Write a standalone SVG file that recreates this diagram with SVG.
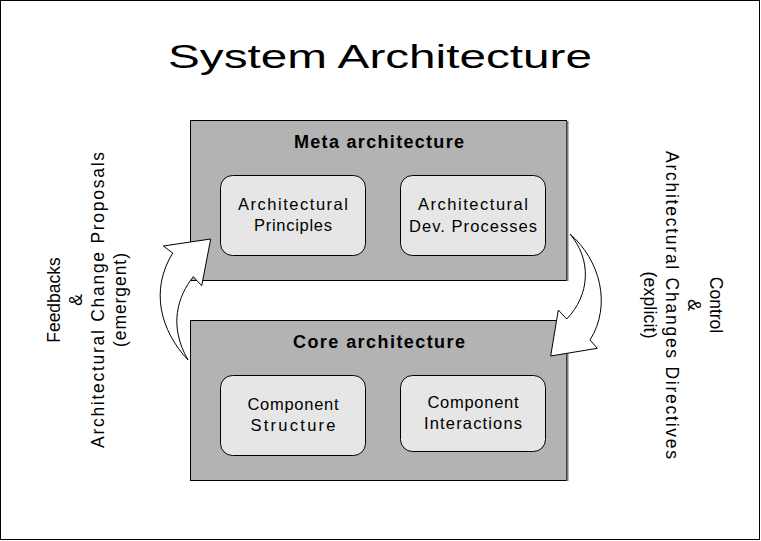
<svg xmlns="http://www.w3.org/2000/svg" width="761" height="541" viewBox="0 0 761 541">
<style>
text{font-family:"Liberation Sans","DejaVu Sans",sans-serif;fill:#000;text-anchor:middle}
.title{font-size:34px}
.hdr{font-size:18px;font-weight:bold}
.lbl{font-size:16.5px}
.side{font-size:17.5px}
.outer{fill:#b3b3b3;stroke:#000;stroke-width:1}
.shadow{stroke:#7a7a7a;stroke-width:2}
.inner{fill:#e6e6e6;stroke:#000;stroke-width:1}
.arrow{fill:#fff;stroke:#000;stroke-width:1}
</style>
<rect x="0.5" y="0.5" width="759" height="539" fill="#fff" stroke="#000" stroke-width="1"/>
<text class="title" x="380" y="68" textLength="424" lengthAdjust="spacingAndGlyphs">System Architecture</text>

<g id="meta">
<rect class="outer" x="190.5" y="120.5" width="376" height="160"/>
<line class="shadow" x1="567.5" y1="121" x2="567.5" y2="281"/>
<text class="hdr" x="379" y="148" textLength="170" lengthAdjust="spacing">Meta architecture</text>
</g>
<g id="principles">
<rect class="inner" x="220.5" y="175.5" width="145" height="80" rx="12"/>
<text class="lbl" x="293" y="210" textLength="110" lengthAdjust="spacing">Architectural</text>
<text class="lbl" x="293" y="231" textLength="78" lengthAdjust="spacing">Principles</text>
</g>
<g id="devproc">
<rect class="inner" x="400.5" y="175.5" width="145" height="80" rx="12"/>
<text class="lbl" x="473" y="210" textLength="110" lengthAdjust="spacing">Architectural</text>
<text class="lbl" x="473" y="232" textLength="128" lengthAdjust="spacing">Dev. Processes</text>
</g>

<g id="core">
<rect class="outer" x="190.5" y="320.5" width="376" height="160"/>
<line class="shadow" x1="567.5" y1="321" x2="567.5" y2="481"/>
<text class="hdr" x="379" y="348" textLength="172" lengthAdjust="spacing">Core architecture</text>
</g>
<g id="structure">
<rect class="inner" x="220.5" y="375.5" width="145" height="80" rx="12"/>
<text class="lbl" x="293" y="410" textLength="91" lengthAdjust="spacing">Component</text>
<text class="lbl" x="293" y="431" textLength="85" lengthAdjust="spacing">Structure</text>
</g>
<g id="interactions">
<rect class="inner" x="400.5" y="375.5" width="145" height="76" rx="12"/>
<text class="lbl" x="473" y="408" textLength="91" lengthAdjust="spacing">Component</text>
<text class="lbl" x="473" y="429" textLength="98" lengthAdjust="spacing">Interactions</text>
</g>

<g id="connectors">
<path class="arrow" d="M188,360 C160,330 150,290 172.7,253 L163.3,246 L210.7,239 L201.7,285.7 L193.3,276.7 C178,296 168,325 188,360 Z"/>
<path class="arrow" d="M570,234 C600,260 612,305 590,340 L597.3,348.3 L550.7,356 L558.3,310 L566.7,319 C590,295 592,260 570,234 Z"/>
</g>

<g id="left-label">
<text class="side" transform="translate(60,300) rotate(-90)">Feedbacks</text>
<text class="side" transform="translate(82,300) rotate(-90)">&amp;</text>
<text class="side" transform="translate(104,300) rotate(-90)" textLength="296" lengthAdjust="spacing">Architectural Change Proposals</text>
<text class="side" transform="translate(126,300) rotate(-90)" textLength="94" lengthAdjust="spacing">(emergent)</text>
</g>
<g id="right-label">
<text class="side" transform="translate(710,305) rotate(90)">Control</text>
<text class="side" transform="translate(688,305) rotate(90)">&amp;</text>
<text class="side" transform="translate(666,305) rotate(90)" textLength="308" lengthAdjust="spacing">Architectural Changes Directives</text>
<text class="side" transform="translate(644,305) rotate(90)" textLength="67" lengthAdjust="spacing">(explicit)</text>
</g>
</svg>
